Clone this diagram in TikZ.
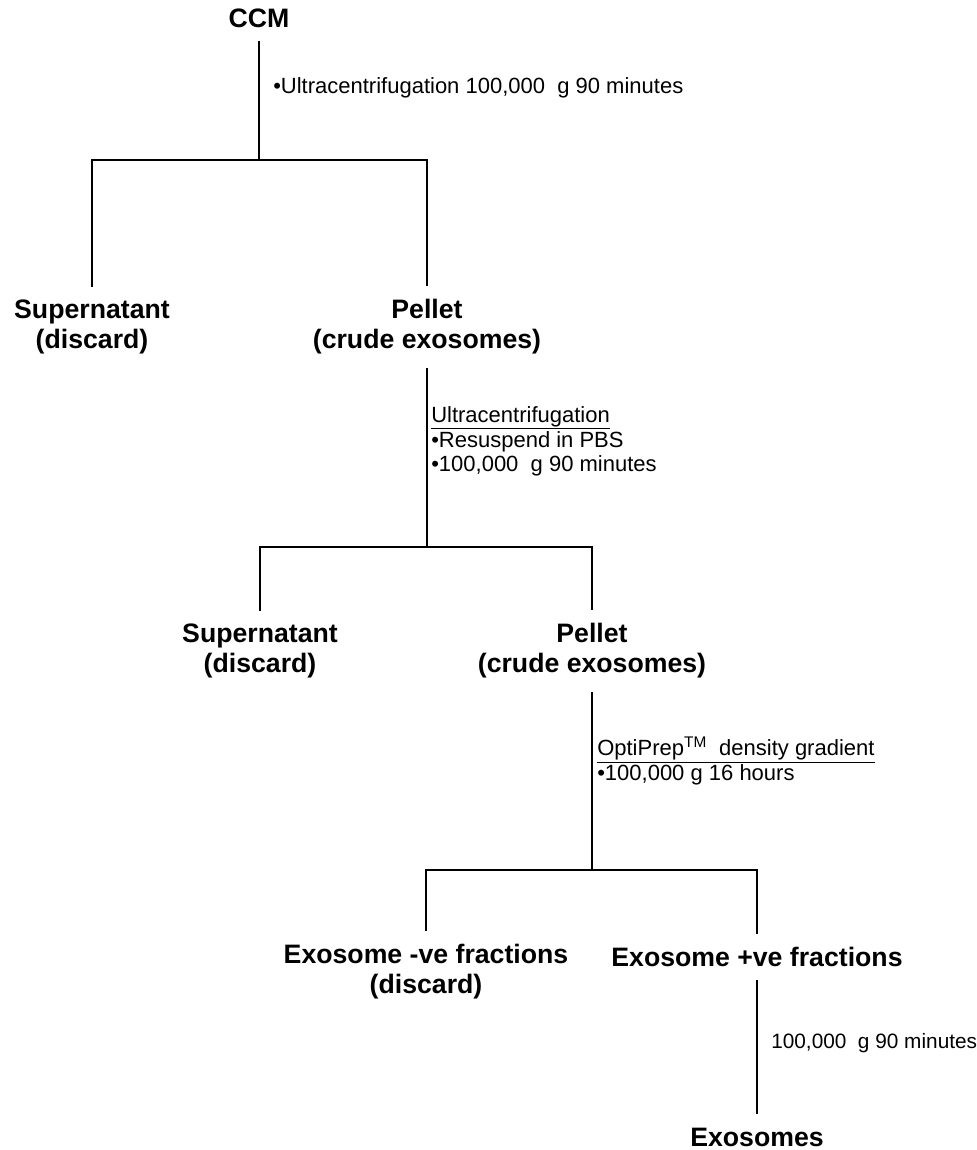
\documentclass[tikz,border=0pt]{standalone}
\usepackage{fontspec}
\setmainfont{Liberation Sans}

\tikzset{
  stage/.style={font=\bfseries\fontsize{20}{22.5}\selectfont, align=center, inner sep=0pt, outer sep=10pt},
  note/.style={font=\fontsize{16.5}{18}\selectfont, align=left, anchor=west, inner sep=0pt},
  trunk/.style={line width=1.5pt},
  link/.style={line width=1.1pt},
}

\begin{document}
\begin{tikzpicture}[x=0.75pt,y=-0.75pt]
\useasboundingbox (0,0) rectangle (977,1150);

\node[stage] (ccm) at (259,18) {CCM};
\coordinate (split1) at (259,160);
\node[stage] (sup1) at (92,327) {Supernatant\\(discard)};
\node[stage] (pel1) at (427,327) {Pellet\\(crude exosomes)};

\coordinate (split2) at (427,547);
\node[stage] (sup2) at (260,651) {Supernatant\\(discard)};
\node[stage] (pel2) at (592,651) {Pellet\\(crude exosomes)};

\coordinate (split3) at (592,870);
\node[stage] (neg) at (426,972) {Exosome -ve fractions\\(discard)};
\node[stage] (pos) at (757,957) {Exosome +ve fractions};
\node[stage] (exo) at (757,1137) {Exosomes};

% steps
\node[note] (spin1) at (273,88) {•Ultracentrifugation 100,000\ \ g 90 minutes};
\node[note] (spin2) at (431,441) {\underline{Ultracentrifugation}\\[1pt]•Resuspend in PBS\\•100,000\ \ g 90 minutes};
\node[note] (grad) at (597,761) {\underline{OptiPrep\textsuperscript{TM}\ \ density gradient}\\[1pt]•100,000 g 16 hours};
\node[note, font=\fontsize{15.6}{18}\selectfont] (spin3) at (771,1043) {100,000\ \ g 90 minutes};

\draw[trunk] (ccm) -- (split1);
\draw[link] (sup1) |- (split1) -| (pel1);
\draw[trunk] (pel1) -- (split2);
\draw[link] (sup2) |- (split2) -| (pel2);
\draw[trunk] (pel2) -- (split3);
\draw[link] (neg) |- (split3) -| (pos);
\draw[link] (pos) -- (exo);
\end{tikzpicture}
\end{document}
